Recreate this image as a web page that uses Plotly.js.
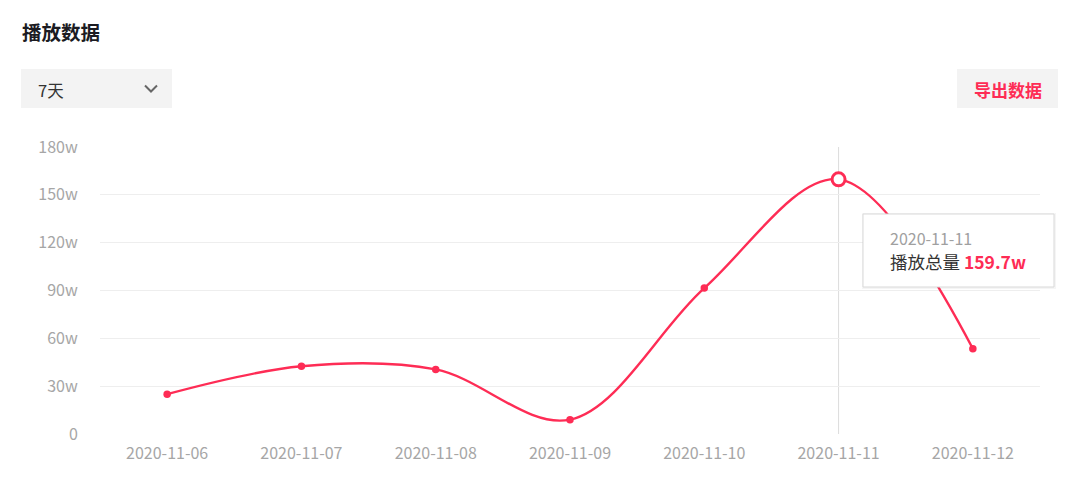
<!DOCTYPE html>
<html>
<head>
<meta charset="utf-8">
<script src="https://cdn.plot.ly/plotly-3.0.1.min.js"></script>
<style>
html,body{margin:0;padding:0;background:#fff;}
#chart{width:1080px;height:486px;}
</style>
</head>
<body>
<div id="chart"></div>
<script>
// ---- data ----
const categories = ['2020-11-06','2020-11-07','2020-11-08','2020-11-09','2020-11-10','2020-11-11','2020-11-12'];
const playTotal = [25, 42.5, 40.5, 9, 91.5, 159.7, 53.5];
const yTickVals = [0, 30, 60, 90, 120, 150, 180];
const yTickText = ['0', '30w', '60w', '90w', '120w', '150w', '180w'];
const highlightDate = '2020-11-11';
const titleText = '播放数据';
const rangeText = '7天';
const exportText = '导出数据';
const seriesName = '播放总量';

// ---- layout helpers ----
const W = 1080, H = 486;
const M = {l: 100, r: 40, t: 147, b: 52};
const PW = W - M.l - M.r, PH = H - M.t - M.b;
const px = x => (x - M.l) / PW;
const py = y => (H - M.b - y) / PH;

const RED = '#fe2c55';
const CJK = '"Noto Sans CJK SC", "Noto Sans", sans-serif';
const TICK = '#a6a6a6';
const hi = categories.indexOf(highlightDate);

const traces = [
  {
    x: categories, y: playTotal, type: 'scatter', mode: 'lines+markers',
    line: {color: RED, width: 2.4, shape: 'spline', smoothing: 1},
    marker: {color: RED, size: 7.5},
    hoverinfo: 'skip', showlegend: false
  },
  {
    x: [categories[hi]], y: [playTotal[hi]], type: 'scatter', mode: 'markers',
    marker: {color: '#ffffff', size: 13, line: {color: RED, width: 3}},
    hoverinfo: 'skip', showlegend: false
  }
];

const shapes = [
  // axis pointer line
  {type: 'line', xref: 'x', yref: 'paper', x0: hi, x1: hi, y0: 0, y1: 1,
   line: {color: '#dcdcdc', width: 1}, layer: 'below'},
  // dropdown box
  {type: 'rect', xref: 'paper', yref: 'paper', x0: px(21), x1: px(172), y0: py(108), y1: py(69),
   fillcolor: '#f3f3f3', line: {width: 0}},
  // chevron
  {type: 'path', xref: 'paper', yref: 'paper',
   path: `M ${px(145)} ${py(85.5)} L ${px(151)} ${py(91.5)} L ${px(157)} ${py(85.5)}`,
   line: {color: '#666666', width: 2}},
  // export button
  {type: 'rect', xref: 'paper', yref: 'paper', x0: px(957), x1: px(1058), y0: py(108), y1: py(69),
   fillcolor: '#f3f3f3', line: {width: 0}},
  // tooltip shadow + box
  {type: 'rect', xref: 'paper', yref: 'paper', x0: px(862), x1: px(1056), y0: py(289), y1: py(213),
   fillcolor: 'rgba(0,0,0,0.04)', line: {width: 0}},
  {type: 'rect', xref: 'paper', yref: 'paper', x0: px(863), x1: px(1054), y0: py(287), y1: py(214),
   fillcolor: '#ffffff', line: {color: '#d9d9d9', width: 1}}
];

const annotations = [
  {xref: 'paper', yref: 'paper', x: px(20), y: py(31), xanchor: 'left', yanchor: 'middle',
   text: '<b>' + titleText + '</b>', showarrow: false,
   font: {family: CJK, size: 19.5, color: '#1b1b22'}},
  {xref: 'paper', yref: 'paper', x: px(36), y: py(90), xanchor: 'left', yanchor: 'middle',
   text: rangeText, showarrow: false, font: {family: CJK, size: 16.5, color: '#333333'}},
  {xref: 'paper', yref: 'paper', x: px(1007.5), y: py(89.5), xanchor: 'center', yanchor: 'middle',
   text: '<b>' + exportText + '</b>', showarrow: false, font: {family: CJK, size: 17, color: RED}},
  {xref: 'paper', yref: 'paper', x: px(888), y: py(238), xanchor: 'left', yanchor: 'middle',
   text: categories[hi], showarrow: false, font: {family: CJK, size: 16, color: '#a0a0a0'}},
  {xref: 'paper', yref: 'paper', x: px(888), y: py(261), xanchor: 'left', yanchor: 'middle',
   text: seriesName + ' <b><span style="color:' + RED + '">' + playTotal[hi] + 'w</span></b>',
   showarrow: false, font: {family: CJK, size: 17.5, color: '#333333'}}
];

const layout = {
  width: W, height: H,
  margin: M,
  paper_bgcolor: '#ffffff', plot_bgcolor: '#ffffff',
  font: {family: CJK, color: TICK, size: 16},
  xaxis: {
    type: 'category', range: [-0.5, categories.length - 0.5],
    showgrid: false, zeroline: false, showline: false,
    ticks: 'outside', ticklen: 5, tickcolor: 'rgba(0,0,0,0)',
    tickfont: {family: CJK, size: 16, color: TICK}, fixedrange: true
  },
  yaxis: {
    range: [0, 180], tickvals: yTickVals, ticktext: yTickText,
    showgrid: true, gridcolor: '#eeeeee', gridwidth: 1, zeroline: false, showline: false,
    ticks: 'outside', ticklen: 18, tickcolor: 'rgba(0,0,0,0)',
    tickfont: {family: CJK, size: 16, color: TICK}, fixedrange: true
  },
  shapes: shapes,
  annotations: annotations,
  showlegend: false
};

Plotly.newPlot('chart', traces, layout, {displayModeBar: false, staticPlot: true});
</script>
</body>
</html>
